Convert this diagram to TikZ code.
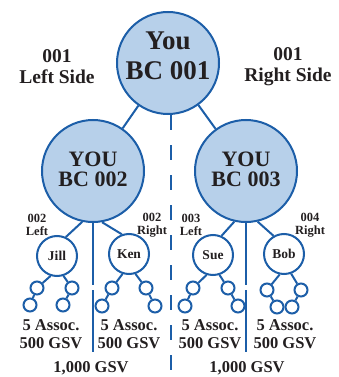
\documentclass[tikz,border=0pt]{standalone}
\usepackage{fontspec}
\setmainfont{Liberation Serif}
\usetikzlibrary{calc}
\definecolor{bcfill}{RGB}{183,208,234}
\definecolor{bcline}{RGB}{28,94,168}
\definecolor{bctext}{RGB}{35,31,32}

\begin{document}
\begin{tikzpicture}[x=1pt, y=-1pt,
  bigc/.style={circle, draw=bcline, fill=bcfill, line width=2pt, minimum size=102pt, inner sep=0pt},
  namec/.style={circle, draw=bcline, fill=white, line width=2pt, minimum size=40pt, inner sep=0pt, text=bctext, font=\bfseries\fontsize{13.5}{13.5}\selectfont},
  dotc/.style={circle, draw=bcline, fill=white, line width=2pt, minimum size=13pt, inner sep=0pt},
  link/.style={draw=bcline, line width=2pt},
  toptxt/.style={align=center, text=bctext, font=\bfseries\fontsize{27}{30}\selectfont},
  bctxt/.style={align=center, text=bctext, font=\bfseries\fontsize{22}{20}\selectfont},
  sidetxt/.style={align=center, text=bctext, font=\bfseries\fontsize{19.5}{21}\selectfont},
  legtxt/.style={align=center, text=bctext, font=\bfseries\fontsize{12.5}{12.5}\selectfont},
  sumtxt/.style={align=center, text=bctext, font=\bfseries\fontsize{16.5}{18}\selectfont}]
\useasboundingbox (0,0) rectangle (339,377);
\node[bigc] (you1) at (168,63) {};
\node[bigc] (you2) at (93,171) {};
\node[bigc] (you3) at (246,171) {};
\node[toptxt] (t1) at (168,56) {You\\BC 001};
\node[bctxt] (t2) at (93,169) {YOU\\BC 002};
\node[bctxt] (t3) at (246,169) {YOU\\BC 003};
\node[sidetxt] (lside) at (57,67) {001\\Left Side};
\node[sidetxt] (rside) at (288,67) {001\\Right Side};
\draw[link] (you1) -- (you2);
\draw[link] (you1) -- (you3);
\coordinate (split) at (170.5,377);
\draw[link, dash pattern=on 15pt off 15pt] (you1.south -| split) -- (split);
\coordinate (l2a) at (93,285);
\coordinate (l2b) at (93,290);
\coordinate (l2c) at (93,352);
\coordinate (l3a) at (246,285);
\coordinate (l3b) at (246,290);
\coordinate (l3c) at (246,352);
\draw[link] (you2.south) -- (l2a);
\draw[link] (l2b) -- (l2c);
\draw[link] (you3.south) -- (l3a);
\draw[link] (l3b) -- (l3c);
\node[namec] (jill) at (57,256) {Jill};
\node[namec] (ken) at (129,254) {Ken};
\node[namec] (sue) at (213,255) {Sue};
\node[namec] (bob) at (284,254) {Bob};
\draw[link] (you2.258) -- (jill.65);
\draw[link] (you2.280) -- (ken.110);
\draw[link] (you3.257) -- (sue.66);
\draw[link] (you3.283) -- (bob.120);
\node[legtxt] (jleg) at (37,225) {002\\Left};
\node[legtxt] (kleg) at (152,225) {002\\Right};
\node[legtxt] (sleg) at (191,225) {003\\Left};
\node[legtxt] (bleg) at (310,225) {004\\Right};
\node[dotc] (ja) at (37,288) {};
\node[dotc] (jb) at (72,288) {};
\node[dotc] (jaa) at (30,305) {};
\node[dotc] (jbb) at (63,305) {};
\node[dotc] (ka) at (112,288) {};
\node[dotc] (kb) at (146,288) {};
\node[dotc] (kaa) at (102,306) {};
\node[dotc] (kbb) at (155,306) {};
\node[dotc] (sa) at (193,288) {};
\node[dotc] (sb) at (228,288) {};
\node[dotc] (saa) at (185,306) {};
\node[dotc] (sbb) at (238,306) {};
\node[dotc] (ba) at (267,290) {};
\node[dotc] (bb) at (301,290) {};
\node[dotc] (baa) at (277,307) {};
\node[dotc] (bbb) at (292,307) {};
\draw[link] (jill.252) -- (ja);
\draw[link] (jill.288) -- (jb);
\draw[link] (ja) -- (jaa);
\draw[link] (jb) -- (jbb);
\draw[link] (ken.252) -- (ka);
\draw[link] (ken.288) -- (kb);
\draw[link] (ka) -- (kaa);
\draw[link] (kb) -- (kbb);
\draw[link] (sue.252) -- (sa);
\draw[link] (sue.288) -- (sb);
\draw[link] (sa) -- (saa);
\draw[link] (sb) -- (sbb);
\draw[link] (bob.258) -- (ba);
\draw[link] (bob.290) -- (bb);
\draw[link] (ba) -- (baa);
\draw[link] (bb) -- (bbb);
\node[sumtxt] (jsum) at (51,334) {5 Assoc.\\500 GSV};
\node[sumtxt] (ksum) at (129,334) {5 Assoc.\\500 GSV};
\node[sumtxt] (ssum) at (210,334) {5 Assoc.\\500 GSV};
\node[sumtxt] (bsum) at (285,334) {5 Assoc.\\500 GSV};
\node[sumtxt] (lsum) at (91,368) {1,000 GSV};
\node[sumtxt] (rsum) at (247,368) {1,000 GSV};
\end{tikzpicture}
\end{document}
